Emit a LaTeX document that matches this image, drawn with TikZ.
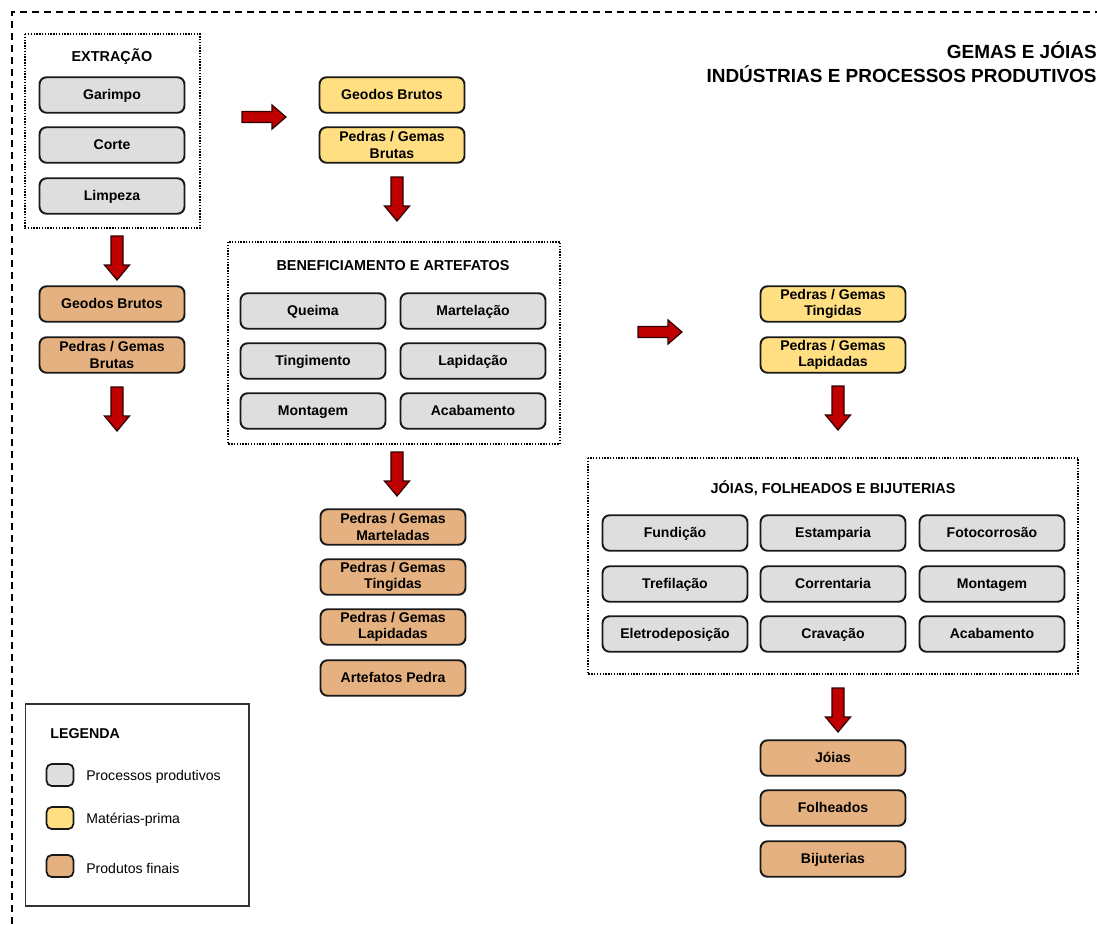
\documentclass[tikz,border=0pt]{standalone}
\usepackage{fontspec}
\setmainfont{Liberation Sans}
\usetikzlibrary{positioning}
\definecolor{procgray}{RGB}{222,222,222}
\definecolor{rawyellow}{RGB}{255,223,130}
\definecolor{prodorange}{RGB}{230,177,128}
\definecolor{arrowred}{RGB}{192,0,0}
\tikzset{
  box/.style={draw=black!90, line width=1.1pt, rounded corners=4pt, minimum width=2.9cm, minimum height=0.71cm, inner sep=1pt, align=center, text height=6.2pt, text depth=1.6pt, font=\bfseries\fontsize{8}{9.4}\selectfont},
  twoline/.style={text height={}, text depth={}},
  proc/.style={box, fill=procgray},
  raw/.style={box, fill=rawyellow},
  prod/.style={box, fill=prodorange},
  swatch/.style={draw=black!90, line width=1pt, rounded corners=3pt, minimum width=0.54cm, minimum height=0.44cm, inner sep=0pt},
  groupframe/.style={line width=0.9pt, dash pattern=on 0.8pt off 0.8pt},
  grouptitle/.style={anchor=base, inner sep=0pt, font=\bfseries\fontsize{8.2}{10}\selectfont},
  legtext/.style={anchor=base west, inner sep=0pt, font=\fontsize{8}{10}\selectfont},
  pics/downarrow/.style={code={
    \draw[fill=arrowred, draw=black!75!arrowred, line width=0.7pt] (-6,0) -- (-6,29) -- (-12.5,29) -- (0,44) -- (12.5,29) -- (6,29) -- (6,0) -- cycle;}},
  pics/rightarrow/.style={code={
    \draw[fill=arrowred, draw=black!75!arrowred, line width=0.7pt] (0,-5.5) -- (30,-5.5) -- (30,-12) -- (44,0) -- (30,12) -- (30,5.5) -- (0,5.5) -- cycle;}}
}
\begin{document}
\begin{tikzpicture}[x=0.02cm,y=-0.02cm]
  \useasboundingbox (0,0) rectangle (1097,924);
  %% outer frame
  \draw[line width=0.85pt, dash pattern=on 4pt off 2.8pt] (12,924) -- (12,12) -- (1097,12);
  %% title
  \node[anchor=base east, inner sep=0pt, font=\bfseries\fontsize{10.8}{13}\selectfont] (title1) at (1097,58) {GEMAS E JÓIAS};
  \node[anchor=base east, inner sep=0pt, font=\bfseries\fontsize{10.8}{13}\selectfont] (title2) at (1097,82) {INDÚSTRIAS E PROCESSOS PRODUTIVOS};
  %% extracao
  \draw[groupframe] (25,34) rectangle (200,228);
  \node[grouptitle] (extitle) at (112,61) {EXTRAÇÃO};
  \node[proc] (garimpo) at (112,95) {Garimpo};
  \node[proc] (corte) at (112,145) {Corte};
  \node[proc] (limpeza) at (112,196) {Limpeza};
  \pic (arr1) at (242,117) {rightarrow};
  %% materias-prima (topo)
  \node[raw] (geodosraw) at (392,95) {Geodos Brutos};
  \node[raw, twoline] (brutasraw) at (392,145) {Pedras / Gemas\\Brutas};
  \pic (arr2) at (397,177) {downarrow};
  %% produtos da extracao
  \pic (arr3) at (117,236) {downarrow};
  \node[prod] (geodosprod) at (112,304) {Geodos Brutos};
  \node[prod, twoline] (brutasprod) at (112,355) {Pedras / Gemas\\Brutas};
  \pic (arr4) at (117,387) {downarrow};
  %% beneficiamento
  \draw[groupframe] (228,242) rectangle (560,444);
  \node[grouptitle] (bentitle) at (393,270) {BENEFICIAMENTO E ARTEFATOS};
  \node[proc] (queima) at (313,311) {Queima};
  \node[proc] (martelacao) at (473,311) {Martelação};
  \node[proc] (tingimento) at (313,361) {Tingimento};
  \node[proc] (lapidacao) at (473,361) {Lapidação};
  \node[proc] (montagemb) at (313,411) {Montagem};
  \node[proc] (acabamentob) at (473,411) {Acabamento};
  \pic (arr5) at (397,452) {downarrow};
  \node[prod, twoline] (marteladas) at (393,527) {Pedras / Gemas\\Marteladas};
  \node[prod, twoline] (tingidasprod) at (393,577) {Pedras / Gemas\\Tingidas};
  \node[prod, twoline] (lapidadasprod) at (393,627) {Pedras / Gemas\\Lapidadas};
  \node[prod] (artefatos) at (393,678) {Artefatos Pedra};
  \pic (arr6) at (638,332) {rightarrow};
  %% materias-prima (direita)
  \node[raw, twoline] (tingidasraw) at (833,304) {Pedras / Gemas\\Tingidas};
  \node[raw, twoline] (lapidadasraw) at (833,355) {Pedras / Gemas\\Lapidadas};
  \pic (arr7) at (838,386) {downarrow};
  %% joias, folheados e bijuterias
  \draw[groupframe] (588,458) rectangle (1078,674);
  \node[grouptitle] (joititle) at (833,493) {JÓIAS, FOLHEADOS E BIJUTERIAS};
  \node[proc] (fundicao) at (675,533) {Fundição};
  \node[proc] (estamparia) at (833,533) {Estamparia};
  \node[proc] (fotocorrosao) at (992,533) {Fotocorrosão};
  \node[proc] (trefilacao) at (675,584) {Trefilação};
  \node[proc] (correntaria) at (833,584) {Correntaria};
  \node[proc] (montagemj) at (992,584) {Montagem};
  \node[proc] (eletro) at (675,634) {Eletrodeposição};
  \node[proc] (cravacao) at (833,634) {Cravação};
  \node[proc] (acabamentoj) at (992,634) {Acabamento};
  \pic (arr8) at (838,688) {downarrow};
  \node[prod] (joias) at (833,758) {Jóias};
  \node[prod] (folheados) at (833,808) {Folheados};
  \node[prod] (bijuterias) at (833,859) {Bijuterias};
  %% legenda
  \draw[line width=0.6pt, draw=black!80] (25.5,704) rectangle (249,906);
  \node[anchor=base west, inner sep=0pt, font=\bfseries\fontsize{8.1}{10}\selectfont] (legtitle) at (50,738) {LEGENDA};
  \node[swatch, fill=procgray] (legproc) at (60,775) {};
  \node[swatch, fill=rawyellow] (legraw) at (60,818) {};
  \node[swatch, fill=prodorange] (legprod) at (60,866) {};
  \node[legtext] (legproctext) at (86,780) {Processos produtivos};
  \node[legtext] (legrawtext) at (86,823) {Matérias-prima};
  \node[legtext] (legprodtext) at (86,873) {Produtos finais};
\end{tikzpicture}
\end{document}
